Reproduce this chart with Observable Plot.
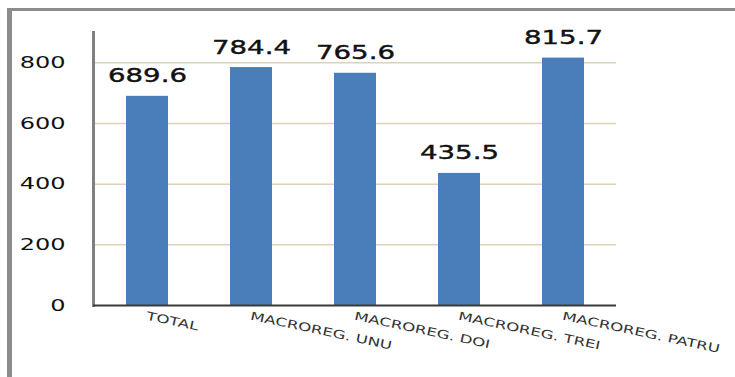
<!DOCTYPE html>
<html><head><meta charset="utf-8">
<script src="https://cdn.jsdelivr.net/npm/d3@7"></script>
<script src="https://cdn.jsdelivr.net/npm/@observablehq/plot@0.6"></script>
<style>
html,body{margin:0;padding:0;background:#fff;width:735px;height:377px;overflow:hidden;}
#wrap{position:relative;width:735px;height:377px;}
#frame{position:absolute;left:7px;top:8px;width:800px;height:400px;border-left:5px solid #8c8c8c;border-top:3px solid #8c8c8c;box-sizing:border-box;}
#chart{position:absolute;left:0;top:0;}
</style></head><body>
<div id="wrap"><div id="frame"></div><div id="chart"></div></div>
<script>
const categories = ["TOTAL", "MACROREG. UNU", "MACROREG. DOI", "MACROREG. TREI", "MACROREG. PATRU"];
const values = [689.6, 784.4, 765.6, 435.5, 815.7];
const yTicks = [0, 200, 400, 600, 800];
const gridTicks = [200, 400, 600, 800];
const data = categories.map((c, i) => ({category: c, value: values[i]}));

const chart = Plot.plot({
  width: 735, height: 377,
  marginLeft: 93, marginRight: 119, marginTop: 32, marginBottom: 72,
  style: {fontFamily: "DejaVu Sans, Verdana, sans-serif", background: "transparent", overflow: "visible"},
  x: {domain: categories, paddingInner: 0.6, paddingOuter: 0.3, axis: null, label: null},
  y: {domain: [0, 900], axis: null, label: null},
  marks: [
    Plot.ruleY(gridTicks, {stroke: "#d9d4b5", strokeWidth: 1.5}),
    Plot.barY(data, {x: "category", y: "value", fill: "#4a7ebb"}),
    Plot.frame({anchor: "left", stroke: "#808080", strokeWidth: 3}),
    Plot.ruleY([0], {stroke: "#3a3a3a", strokeWidth: 2}),
    Plot.axisY({ticks: yTicks, label: null, tickSize: 0, tickPadding: 28, fontSize: 16, fill: "#111", stroke: "#111", strokeWidth: 0.4, tickFormat: d => String(d)}),
    Plot.axisX({label: null, tickSize: 0, tickPadding: 6, tickRotate: 12, textAnchor: "start", lineAnchor: "top", fontSize: 11.5, fill: "#333"}),
    Plot.text(data, {x: "category", y: "value", text: d => d3.format(".1f")(d.value), lineAnchor: "bottom", dy: -14, fontSize: 19, fill: "#111", stroke: "#111", strokeWidth: 0.4})
  ]
});
document.getElementById("chart").appendChild(chart);

function stretch(sel, f) {
  chart.querySelectorAll(sel).forEach(t => {
    const w = t.getComputedTextLength();
    t.setAttribute("textLength", w * f);
    t.setAttribute("lengthAdjust", "spacingAndGlyphs");
  });
}
stretch('g[aria-label="y-axis tick label"] text', 1.5);
stretch('g[aria-label="x-axis tick label"] text', 1.45);
stretch('g[aria-label="text"] text', 1.45);
</script>
</body></html>
